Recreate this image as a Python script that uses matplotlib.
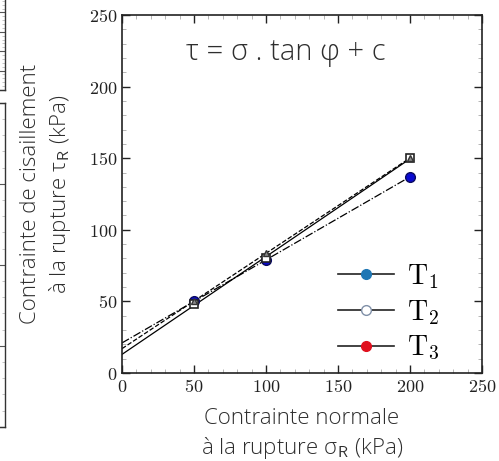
"""Mohr-Coulomb envelopes for the three tests T1, T2, T3."""

import numpy as np
import matplotlib
matplotlib.use('Agg')
import matplotlib.pyplot as plt
from matplotlib.lines import Line2D
from matplotlib.ticker import MultipleLocator, FuncFormatter

plt.rcParams['mathtext.fontset'] = 'cm'

# normal stress at failure (kPa)
sigma = [50, 100, 200]
# shear stress at failure (kPa)
tau_t1 = [50, 79, 137]
tau_t2 = [48, 80, 150]
tau_t3 = [50, 84, 150]
labels = [r'$\mathrm{T}_1$', r'$\mathrm{T}_2$', r'$\mathrm{T}_3$']

label_font = 'Open Sans'
grey_txt = '#2e2e2e'

fig = plt.figure(figsize=(4.99, 4.61), dpi=100)

# remnants of the neighbouring panel on the left edge
for rect, step in [([-0.05, 0.805, 0.06, 0.21], 20), ([-0.05, 0.074, 0.06, 0.703], 25)]:
    axl = fig.add_axes(rect)
    axl.set_ylim(0, 100)
    axl.yaxis.set_major_locator(MultipleLocator(step))
    axl.yaxis.set_minor_locator(MultipleLocator(step / 5))
    axl.tick_params(which='both', direction='in', left=False, right=True,
                    labelleft=False, bottom=False, labelbottom=False,
                    color='#555555')
    axl.tick_params(which='major', length=4)
    axl.tick_params(which='minor', length=2, color='#bbbbbb')
    for sp in axl.spines.values():
        sp.set_color('#333333')
        sp.set_linewidth(1.0)

ax = fig.add_axes([0.2445, 0.1909, 0.7215, 0.7766])

xfit = np.array([0, 200])
styles = [('-.', tau_t1), ('--', tau_t3), ('-', tau_t2)]
for ls, tau in styles:
    a, b = np.polyfit(sigma, tau, 1)
    ax.plot(xfit, a * xfit + b, color='black', ls=ls, lw=0.9, zorder=2)

ax.plot(sigma, tau_t1, 'o', color='#0a0ad0', mec='#0a0a60', ms=7, zorder=3)
ax.plot(sigma, tau_t2, 's', color='white', mec='#222222', ms=6, mew=1.2, zorder=4)
ax.plot(sigma, tau_t3, '^', color='#8a8a8a', mec='#333333', ms=5, zorder=5)

ax.set_xlim(0, 250)
ax.set_ylim(0, 250)
ax.xaxis.set_major_locator(MultipleLocator(50))
ax.yaxis.set_major_locator(MultipleLocator(50))
ax.xaxis.set_minor_locator(MultipleLocator(10))
ax.yaxis.set_minor_locator(MultipleLocator(10))
fmt = FuncFormatter(lambda v, p: r'$%d$' % v)
ax.xaxis.set_major_formatter(fmt)
ax.yaxis.set_major_formatter(fmt)
ax.tick_params(which='both', direction='in', top=True, right=True,
               labelsize=13, colors='#222222')
ax.tick_params(which='major', length=6, width=1.0)
ax.tick_params(which='minor', length=3, width=0.6, color='#aaaaaa')
for sp in ax.spines.values():
    sp.set_linewidth(1.2)
    sp.set_color('#222222')

ax.set_xlabel('Contrainte normale\n' + r'à la rupture σ$_{\mathsf{R}}$ (kPa)',
              fontfamily=label_font, fontweight='light', fontsize=16,
              color=grey_txt, linespacing=1.22, labelpad=9)
ax.set_ylabel('Contrainte de cisaillement\n' + r'à la rupture τ$_{\mathsf{R}}$ (kPa)',
              fontfamily=label_font, fontweight='light', fontsize=16,
              color=grey_txt, linespacing=1.25, labelpad=11)

ax.text(0.455, 0.895, 'τ = σ . tan φ + c', transform=ax.transAxes,
        ha='center', va='center', fontfamily=label_font, fontweight='light',
        fontsize=21, color=grey_txt)

handles = [
    Line2D([], [], color='#222222', lw=1.2, marker='o', ms=7,
           mfc='#1f77b4', mec='#1f77b4'),
    Line2D([], [], color='#222222', lw=1.2, marker='o', ms=7,
           mfc='white', mec='#8090a8'),
    Line2D([], [], color='#222222', lw=1.2, marker='o', ms=7,
           mfc='#e0101e', mec='#e0101e'),
]
ax.legend(handles, labels, loc='lower left', bbox_to_anchor=(0.6, 0.03),
          frameon=False, fontsize=20, handlelength=2.0, labelspacing=0.25,
          handletextpad=0.5, borderpad=0, borderaxespad=0)

fig.savefig('out.png', dpi=100)
